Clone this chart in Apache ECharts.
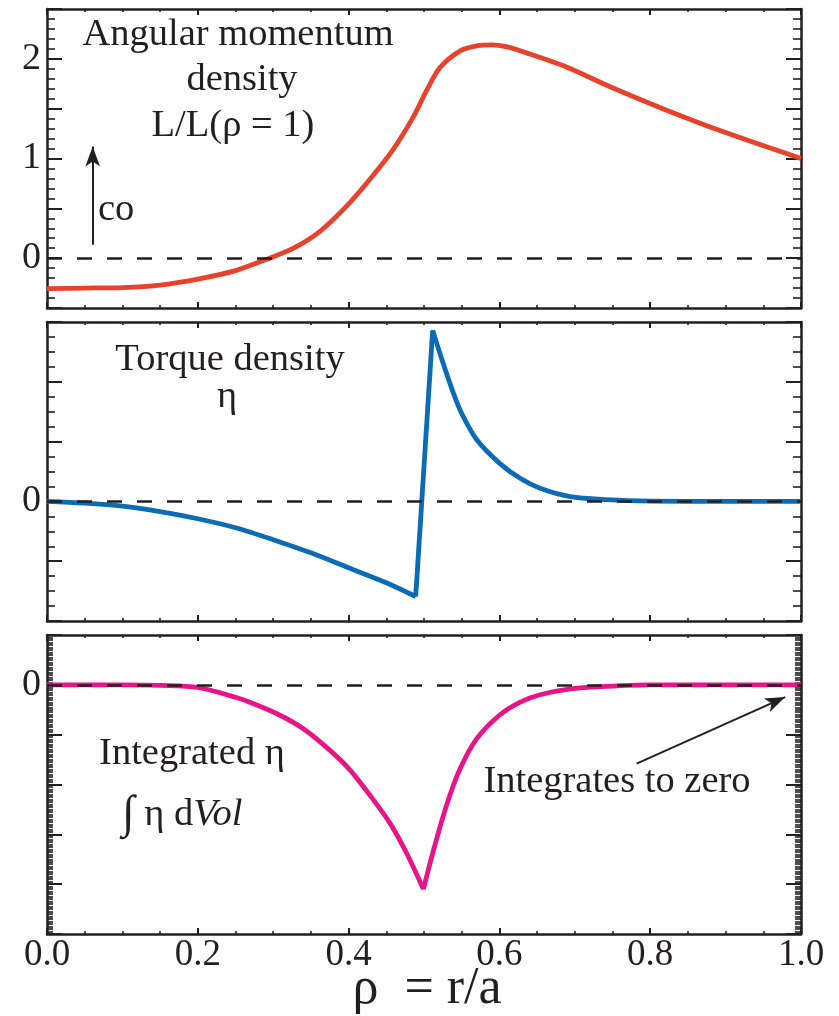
<!DOCTYPE html>
<html>
<head>
<meta charset="utf-8">
<script src="https://cdn.jsdelivr.net/npm/echarts@6/dist/echarts.min.js"></script>
<style>
html,body{margin:0;padding:0;background:#fff;}
#chart{width:839px;height:1016px;}
</style>
</head>
<body>
<div id="chart"></div>
<script>
// ---- data ----
const rhoL = [0.00,0.05,0.10,0.15,0.20,0.25,0.295,0.327,0.362,0.397,0.428,0.459,0.486,0.504,0.521,0.548,0.57,0.59,0.61,0.636,0.685,0.75,0.82,0.90,1.00];
const angMom = [-0.305,-0.30,-0.295,-0.27,-0.21,-0.125,0.0,0.10,0.27,0.52,0.79,1.09,1.42,1.69,1.91,2.08,2.13,2.14,2.12,2.06,1.93,1.71,1.49,1.26,1.00];

const rhoT = [0.00,0.05,0.10,0.15,0.20,0.25,0.30,0.35,0.40,0.45,0.489,0.5115,0.5256,0.539,0.55,0.57,0.60,0.627,0.654,0.694,0.742,0.80,0.90,1.00];
const torque = [0.0,-0.03,-0.08,-0.17,-0.29,-0.44,-0.64,-0.86,-1.11,-1.36,-1.59,2.86,2.30,1.81,1.47,1.03,0.64,0.39,0.22,0.08,0.03,0.005,0.0,0.0];
const minT = 10, peakT = 11;   // indices of the torque minimum and peak

const rhoI = [0.00,0.10,0.15,0.20,0.25,0.269,0.305,0.34,0.375,0.402,0.428,0.455,0.477,0.4992,0.512,0.53,0.548,0.57,0.60,0.627,0.654,0.694,0.742,0.80,0.90,1.00];
const integ = [0.0,0.0,-0.01,-0.05,-0.25,-0.35,-0.58,-0.88,-1.31,-1.71,-2.21,-2.78,-3.38,-4.10,-3.35,-2.41,-1.68,-1.08,-0.61,-0.35,-0.20,-0.08,-0.03,0.0,0.0,0.0];
const minI = 13;       // index of the integrated minimum

const xTickLabels = ['0.0','0.2','0.4','0.6','0.8','1.0'];
const yLabels1 = [0,1,2];
const yLabels2 = [0];
const yLabels3 = [0];

// ---- styling ----
const INK = '#231f20';
const FONT = 'Liberation Serif';
const grids = [
  {left:47, right:38, top:9, height:299},
  {left:47, right:38, top:322, height:299},
  {left:47, right:38, top:635, height:299}
];
function zip(a,b,from,to){return a.map((v,i)=>[v,b[i]]).slice(from, to);}

function xAxes(gi, labels){
  const base = {
    gridIndex:gi, type:'value', min:0, max:1, interval:0.2,
    axisLine:{show:true, onZero:false, lineStyle:{color:INK, width:2.5}},
    axisTick:{show:true, inside:true, length:6, lineStyle:{color:INK, width:2}},
    minorTick:{show:true, splitNumber:4, length:3, lineStyle:{color:INK, width:1.6}},
    splitLine:{show:false}, minorSplitLine:{show:false}
  };
  return [
    Object.assign({}, base, {position:'bottom',
      axisLabel:{show:labels, fontFamily:FONT, fontSize:37, color:INK, margin:3,
        showMinLabel:true, showMaxLabel:true,
        formatter:(v)=>xTickLabels[Math.round(v/0.2)] || ''}}),
    Object.assign({}, base, {position:'top', axisLabel:{show:false}})
  ];
}
function yAxes(gi, min, max, interval, minorSplit, minorLen, labels){
  const base = {
    gridIndex:gi, type:'value', min:min, max:max, interval:interval,
    axisLine:{show:true, onZero:false, lineStyle:{color:INK, width:2.5}},
    axisTick:{show:true, inside:true, length:15, lineStyle:{color:INK, width:2}},
    minorTick:{show:true, splitNumber:minorSplit, length:minorLen, lineStyle:{color:INK, width:1.6}},
    splitLine:{show:false}, minorSplitLine:{show:false}
  };
  return [
    Object.assign({}, base, {position:'left',
      axisLabel:{show:true, fontFamily:FONT, fontSize:38, color:INK, margin:6,
        formatter:(v)=>{const r=Math.round(v); return (Math.abs(v-r)<1e-9 && labels.indexOf(r)>=0)? String(r):'';}}}),
    Object.assign({}, base, {position:'right', axisLabel:{show:false}})
  ];
}
const zeroLine = {yAxis:0, lineStyle:{type:[15,15], width:2.5, color:INK}};
function arrow(x0,y0,x1,y1){
  const ls = {type:'solid', width:2, color:INK};
  return [{coord:[x0,y0], symbol:'none', lineStyle:ls},{coord:[x1,y1], symbol:'arrow', symbolSize:[11,20], lineStyle:ls}];
}
function series(gi, data, color, smooth, marks){
  const s = {
    type:'line', xAxisIndex:2*gi, yAxisIndex:2*gi, data:data, showSymbol:false,
    smooth:smooth,
    lineStyle:{color:color, width:4.8, join:'miter'}, itemStyle:{color:color}, animation:false, silent:true, z:2
  };
  if (marks) {
    s.markLine = {silent:true, animation:false, symbol:['none','none'], label:{show:false},
      emphasis:{disabled:true}, z:5, data:marks};
  }
  return s;
}

const chart = echarts.init(document.getElementById('chart'), null, {renderer:'canvas'});
const textStyle = (t, x, y, size, extra) => ({
  type:'text', x:x, y:y, silent:true,
  style:Object.assign({text:t, fontFamily:FONT, fontSize:size, fill:INK,
    textAlign:'center', textVerticalAlign:'middle', align:'center', verticalAlign:'middle'}, extra||{})
});
const RED = '#e8412c', BLUE = '#0b6cb5', PINK = '#ea1489';
chart.setOption({
  animation:false,
  backgroundColor:'#fff',
  grid:grids,
  xAxis:[].concat(xAxes(0,false), xAxes(1,false), xAxes(2,true)),
  yAxis:[].concat(
    yAxes(0,-0.5,2.5,0.5,5,8,yLabels1),
    yAxes(1,-2,3,1,4,8,yLabels2),
    yAxes(2,-5,1,1,20,6,yLabels3)),
  series:[
    series(0, zip(rhoL, angMom, 0), RED, 0.3, [zeroLine, arrow(0.0606,0.134,0.0606,1.12)]),
    series(1, zip(rhoT, torque, 0, minT+1), BLUE, 0.3),
    series(1, zip(rhoT, torque, minT, peakT+1), BLUE, false),
    series(1, zip(rhoT, torque, peakT), BLUE, 0.3, [zeroLine]),
    series(2, zip(rhoI, integ, 0, minI+1), PINK, 0.3),
    series(2, zip(rhoI, integ, minI), PINK, 0.3, [zeroLine, arrow(0.782,-1.58,0.979,-0.246)])
  ],
  graphic:[
    textStyle('Angular momentum', 238, 35, 38.5),
    textStyle('density', 242, 80, 38.5),
    textStyle('L/L(ρ = 1)', 233, 126, 38.5),
    textStyle('co', 98, 210, 38.5, {textAlign:'left', align:'left'}),
    textStyle('Torque density', 230, 360, 38.5),
    textStyle('η', 227, 397, 38.5),
    textStyle('Integrated η', 192, 754, 38.5),
    {type:'text', x:122, y:815, silent:true, style:{
      text:'{a|∫}{b| η d}{c|Vol}', fontFamily:FONT, fontSize:38.5, fill:INK,
      textAlign:'left', textVerticalAlign:'middle', align:'left', verticalAlign:'middle',
      rich:{a:{fontFamily:FONT, fontSize:46, fill:INK}, b:{fontFamily:FONT, fontSize:38.5, fill:INK}, c:{fontFamily:FONT, fontSize:38.5, fontStyle:'italic', fill:INK}}}},
    textStyle('Integrates to zero', 617, 782, 38.5),
    textStyle('ρ  = r/a', 427, 989, 52)
  ]
});
</script>
</body>
</html>
